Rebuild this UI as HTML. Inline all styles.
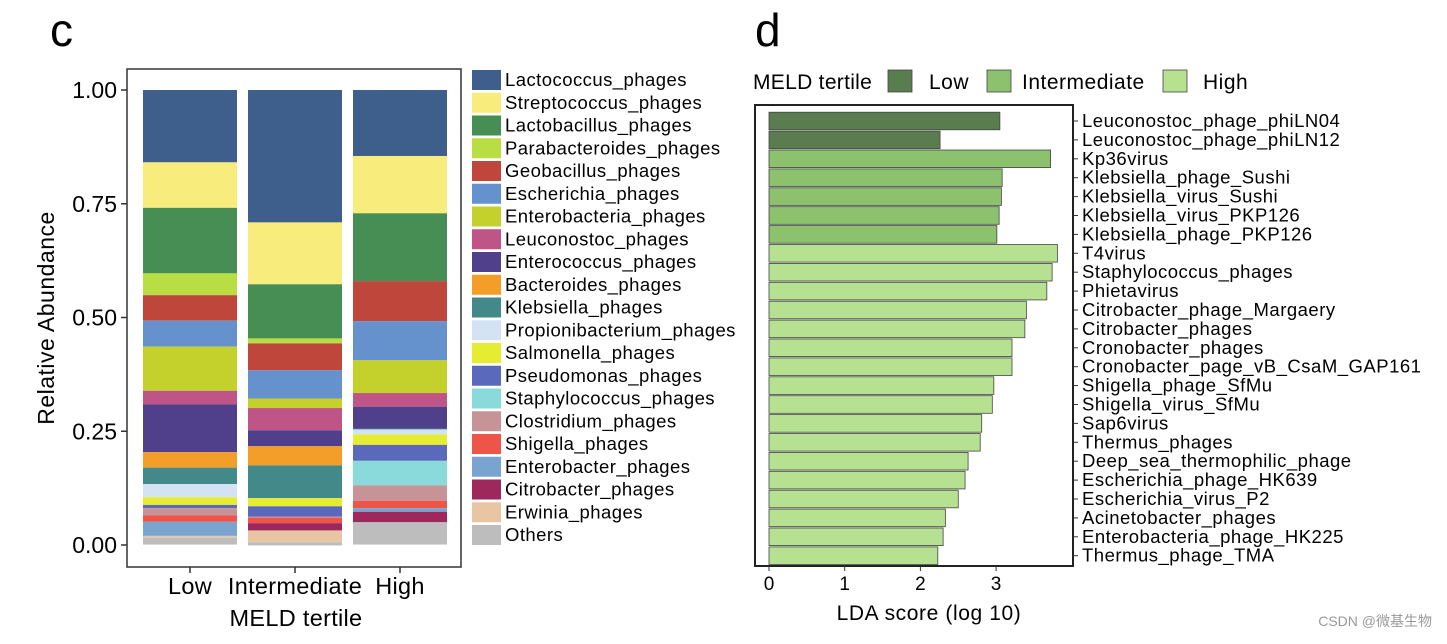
<!DOCTYPE html>
<html><head><meta charset="utf-8"><style>
body{margin:0;background:#fff;width:1447px;height:639px;overflow:hidden;font-family:"Liberation Sans",Arial,sans-serif}
svg text{font-family:"Liberation Sans",Arial,sans-serif}
</style></head><body>
<svg id="s" width="1447" height="639" xmlns="http://www.w3.org/2000/svg">
<text x="50" y="46" font-size="46">c</text>
<text x="755" y="46" font-size="46">d</text>
<g id="c"></g>
<g id="d"></g>
<text x="1432" y="626" font-size="14" fill="#999" text-anchor="end" font-family="Liberation Sans, Noto Sans CJK SC, sans-serif">CSDN @微基生物</text>
</svg>
<script>
const taxa=["Lactococcus_phages","Streptococcus_phages","Lactobacillus_phages","Parabacteroides_phages","Geobacillus_phages","Escherichia_phages","Enterobacteria_phages","Leuconostoc_phages","Enterococcus_phages","Bacteroides_phages","Klebsiella_phages","Propionibacterium_phages","Salmonella_phages","Pseudomonas_phages","Staphylococcus_phages","Clostridium_phages","Shigella_phages","Enterobacter_phages","Citrobacter_phages","Erwinia_phages","Others"];
const taxaColors=["#3e5e8c","#f7ec7c","#468e54","#b8de44","#bf463b","#6591cd","#c4d02c","#bf5586","#50408c","#f29e29","#43898a","#d3e3f4","#e5ec32","#5a69bb","#8ad9db","#c69396","#ef5448","#79a4cf","#9e285b","#e8c6a4","#bdbdbd"];
const groups=["Low","Intermediate","High"];
const lowVals=[0.159,0.100,0.144,0.048,0.056,0.057,0.097,0.030,0.105,0.034,0.036,0.029,0.017,0.007,0.000,0.016,0.014,0.031,0.000,0.004,0.015];
const intVals=[0.291,0.136,0.119,0.011,0.059,0.062,0.021,0.049,0.035,0.042,0.072,0.000,0.018,0.023,0.000,0.002,0.012,0.000,0.016,0.026,0.007];
const highVals=[0.145,0.126,0.149,0.000,0.088,0.086,0.072,0.030,0.048,0.000,0.002,0.011,0.023,0.035,0.054,0.034,0.016,0.008,0.023,0.000,0.049];
const yTicks=[0,0.25,0.5,0.75,1];
const yTickLabels=["0.00","0.25","0.50","0.75","1.00"];

const ldaNames=["Leuconostoc_phage_phiLN04","Leuconostoc_phage_phiLN12","Kp36virus","Klebsiella_phage_Sushi","Klebsiella_virus_Sushi","Klebsiella_virus_PKP126","Klebsiella_phage_PKP126","T4virus","Staphylococcus_phages","Phietavirus","Citrobacter_phage_Margaery","Citrobacter_phages","Cronobacter_phages","Cronobacter_page_vB_CsaM_GAP161","Shigella_phage_SfMu","Shigella_virus_SfMu","Sap6virus","Thermus_phages","Deep_sea_thermophilic_phage","Escherichia_phage_HK639","Escherichia_virus_P2","Acinetobacter_phages","Enterobacteria_phage_HK225","Thermus_phage_TMA"];
const ldaScores=[3.05,2.26,3.72,3.08,3.07,3.04,3.01,3.81,3.74,3.67,3.40,3.38,3.21,3.21,2.97,2.95,2.81,2.79,2.63,2.59,2.50,2.33,2.30,2.23];
const ldaGroups=["Low","Low","Intermediate","Intermediate","Intermediate","Intermediate","Intermediate","High","High","High","High","High","High","High","High","High","High","High","High","High","High","High","High","High"];
const xTicks=[0,1,2,3];
const groupColors={Low:"#5a7d50",Intermediate:"#8cc26e",High:"#b5e191"};

const NS="http://www.w3.org/2000/svg";
function mk(p,t,a,txt){const e=document.createElementNS(NS,t);for(const k in a)e.setAttribute(k,a[k]);if(txt!==undefined)e.textContent=txt;p.appendChild(e);return e;}

// Panel c
const c=document.getElementById('c');
const yC=v=>545-v*455;
const bx=[143,248,353], bw=94;
const box=mk(c,'rect',{x:127,y:69,width:334,height:498,fill:'none',stroke:'#333','stroke-width':1.5});


[lowVals,intVals,highVals].forEach((vals,gi)=>{
  let cum=1;
  vals.forEach((v,i)=>{
    if(v<=0)return;
    const top=yC(cum), h=v*455;
    const r=mk(c,'rect',{x:bx[gi],y:top,width:bw,height:h,fill:taxaColors[i]});
    
    
    cum-=v;
  });
  const m=mk(c,'line',{x1:bx[gi]+bw/2,x2:bx[gi]+bw/2,y1:567,y2:573,stroke:'#333','stroke-width':1.5});
  
  
  const t=mk(c,'text',{x:bx[gi]+bw/2,y:594,'font-size':23.5,'letter-spacing':0.3,'text-anchor':'middle'},groups[gi]);
  
  
});
yTicks.forEach((v,i)=>{
  const l=mk(c,'line',{x1:121,x2:127,y1:yC(v),y2:yC(v),stroke:'#333','stroke-width':1.5});
  
  
  const t=mk(c,'text',{x:117,y:yC(v)+8,'font-size':23,'text-anchor':'end'},yTickLabels[i]);
  
  
});
const yt=mk(c,'text',{x:0,y:0,'font-size':23,'letter-spacing':0.5,'text-anchor':'middle',transform:'translate(54,318) rotate(-90)'},'Relative Abundance');


const xt=mk(c,'text',{x:296,y:626,'font-size':23.5,'letter-spacing':0.3,'text-anchor':'middle'},'MELD tertile');


taxa.forEach((n,i)=>{
  const y=80+i*22.75;
  const r=mk(c,'rect',{x:472,y:y-10,width:29,height:20,fill:taxaColors[i]});
  
  
  const t=mk(c,'text',{x:505,y:y+6,'font-size':18.5,'letter-spacing':0.45},n);
  
  
});

// Panel d
const d=document.getElementById('d');
const xD=v=>769+v*75.7;
const yD=i=>121+i*18.9;
const lt=mk(d,'text',{x:753,y:89,'font-size':21,'letter-spacing':0.3},'MELD tertile');


[["Low",888,929],["Intermediate",987,1022],["High",1163,1203]].forEach(g=>{
  const r=mk(d,'rect',{x:g[1],y:70,width:24,height:22,fill:groupColors[g[0]],stroke:'#444','stroke-width':0.8});
  
  
  const t=mk(d,'text',{x:g[2],y:89,'font-size':21,'letter-spacing':0.5},g[0]);
  
  
});
const fr=mk(d,'rect',{x:755,y:105,width:318,height:461,fill:'none',stroke:'#222','stroke-width':2});


ldaNames.forEach((n,i)=>{
  const y=yD(i);
  const r=mk(d,'rect',{x:xD(0),y:y-8.8,width:xD(ldaScores[i])-xD(0),height:17.6,fill:groupColors[ldaGroups[i]],stroke:'#444','stroke-width':0.8});
  
  
  const l=mk(d,'line',{x1:1073,x2:1078,y1:y,y2:y,stroke:'#333','stroke-width':1});
  
  
  const t=mk(d,'text',{x:1082,y:y+6,'font-size':18.5,'letter-spacing':0.5},n);
  
  
});
xTicks.forEach(v=>{
  const l=mk(d,'line',{x1:xD(v),x2:xD(v),y1:566,y2:571,stroke:'#333','stroke-width':1});
  
  
  const t=mk(d,'text',{x:xD(v),y:590,'font-size':19,'text-anchor':'middle'},String(v));
  
  
});
const dx=mk(d,'text',{x:929,y:620,'font-size':21,'letter-spacing':0.6,'text-anchor':'middle'},'LDA score (log 10)');


</script>
</body></html>
